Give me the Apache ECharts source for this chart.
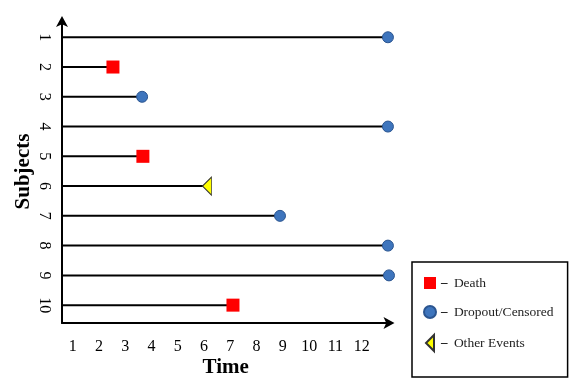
<!DOCTYPE html>
<html>
<head>
<meta charset="utf-8">
<script src="https://cdn.jsdelivr.net/npm/echarts@6/dist/echarts.min.js"></script>
<style>
html,body{margin:0;padding:0;background:#fff;}
#chart{width:573px;height:381px;}
</style>
</head>
<body>
<div id="chart"></div>
<script>
// ---- data ----
var subjects = [1, 2, 3, 4, 5, 6, 7, 8, 9, 10];
var endTimes = [13.0, 2.53, 3.64, 13.0, 3.67, 6.11, 8.89, 13.0, 13.04, 7.10];
var eventTypes = ['Dropout/Censored', 'Death', 'Dropout/Censored', 'Dropout/Censored', 'Death',
                  'Other Events', 'Dropout/Censored', 'Dropout/Censored', 'Dropout/Censored', 'Death'];
var eventNames = ['Death', 'Dropout/Censored', 'Other Events'];
var timeTicks = [1, 2, 3, 4, 5, 6, 7, 8, 9, 10, 11, 12];

var X_MIN = 0.59, X_MAX = 13.06;
var Y_MIN = 0.42, Y_MAX = 10.6;
var FONT = "'Liberation Serif', 'DejaVu Serif', serif";

var lineData = subjects.map(function (s, i) { return [endTimes[i], s]; });
function pointsFor(name) {
  var out = [];
  subjects.forEach(function (s, i) { if (eventTypes[i] === name) out.push([endTimes[i], s]); });
  return out;
}

var chart = echarts.init(document.getElementById('chart'), null, {renderer: 'canvas'});
chart.setOption({
  backgroundColor: '#fff',
  animation: false,
  textStyle: {fontFamily: FONT},
  grid: {left: 62, top: 20, width: 327.5, height: 303, containLabel: false, outerBoundsMode: 'none'},
  xAxis: {
    type: 'value', min: X_MIN, max: X_MAX, minInterval: 1, maxInterval: 1,
    name: 'Time', nameLocation: 'middle', nameGap: 34, nameMoveOverlap: false,
    nameTextStyle: {fontFamily: FONT, fontSize: 21, fontWeight: 'bold', color: '#000'},
    axisLine: {onZero: false, lineStyle: {color: '#000', width: 2}, symbol: ['none', 'arrow'], symbolSize: [9, 11], symbolOffset: [0, 5]},
    axisTick: {show: false},
    splitLine: {show: false},
    axisLabel: {
      color: '#000', fontFamily: FONT, fontSize: 16, margin: 16,
      showMinLabel: false, showMaxLabel: false,
      formatter: function (v) { return timeTicks.indexOf(v) >= 0 ? String(v) : ''; }
    }
  },
  yAxis: {
    type: 'value', inverse: true, min: Y_MIN, max: Y_MAX, minInterval: 1, maxInterval: 1,
    name: 'Subjects', nameLocation: 'middle', nameGap: 28, nameRotate: 90, nameMoveOverlap: false,
    nameTextStyle: {fontFamily: FONT, fontSize: 21, fontWeight: 'bold', color: '#000'},
    axisLine: {onZero: false, lineStyle: {color: '#000', width: 2}, symbol: ['none', 'arrow'], symbolSize: [9, 11], symbolOffset: [0, 4]},
    axisTick: {show: false},
    splitLine: {show: false},
    axisLabel: {
      color: '#000', fontFamily: FONT, fontSize: 16, margin: 10, rotate: -90,
      showMinLabel: false, showMaxLabel: false,
      formatter: function (v) { return subjects.indexOf(v) >= 0 ? String(v) : ''; }
    }
  },
  legend: {
    orient: 'vertical', left: 412, top: 262, height: 114,
    itemWidth: 12, itemHeight: 16, itemGap: 15,
    padding: [14, 14, 25, 11],
    borderColor: '#000', borderWidth: 1.5,
    backgroundColor: '#fff',
    textStyle: {fontFamily: FONT, fontSize: 13.5, color: '#222',
      rich: {d: {fontWeight: 'bold', fontSize: 13, color: '#000', padding: [0, 3, 0, 0]}}},
    formatter: function (n) { return '{d|\u2013} ' + n; },
    data: [
      {name: 'Death', icon: 'path://M0,0 H10 V10 H0 Z'},
      {name: 'Dropout/Censored', icon: 'circle'},
      {name: 'Other Events', icon: 'path://M10,0 L10,20 L0,10 Z'}
    ]
  },
  series: [
    {
      type: 'custom', name: 'lines', silent: true, z: 1,
      data: lineData,
      renderItem: function (params, api) {
        var p0 = api.coord([X_MIN, api.value(1)]);
        var p1 = api.coord([api.value(0), api.value(1)]);
        return {type: 'line', shape: {x1: p0[0], y1: p0[1], x2: p1[0], y2: p1[1]},
                style: {stroke: '#000', lineWidth: 2}};
      }
    },
    {
      type: 'scatter', name: 'Death', z: 3, data: pointsFor('Death'),
      symbol: 'rect', symbolSize: 13,
      itemStyle: {color: '#ff0000', opacity: 1}
    },
    {
      type: 'scatter', name: 'Dropout/Censored', z: 3, data: pointsFor('Dropout/Censored'),
      symbol: 'circle', symbolSize: 11,
      itemStyle: {color: '#3e75bd', borderColor: '#2b5590', borderWidth: 1, opacity: 1}
    },
    {
      type: 'scatter', name: 'Other Events', z: 3, data: pointsFor('Other Events'),
      symbol: 'triangle', symbolSize: [18, 9], symbolRotate: 90,
      itemStyle: {color: '#ffff00', borderColor: '#333', borderWidth: 1, opacity: 1}
    }
  ]
});
</script>
</body>
</html>
